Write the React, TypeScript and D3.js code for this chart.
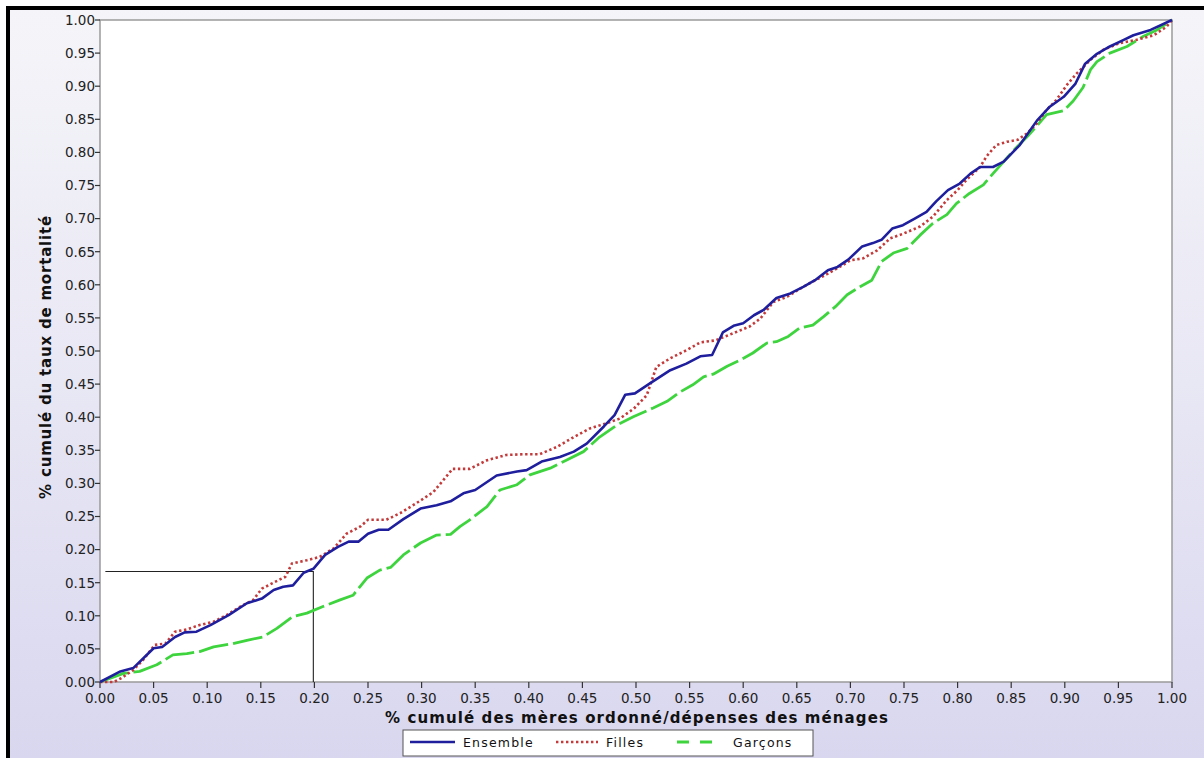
import React from "react";
import * as d3 from "d3";

type Pt = [number, number];

const ensemble: Pt[] = [
  [0, 0], [0.019, 0.016], [0.031, 0.021], [0.05, 0.051], [0.058, 0.053], [0.07, 0.068], [0.079, 0.075], [0.09, 0.076],
  [0.103, 0.086], [0.12, 0.101], [0.137, 0.119], [0.151, 0.126], [0.162, 0.139], [0.171, 0.144], [0.18, 0.146],
  [0.19, 0.165], [0.199, 0.171], [0.21, 0.192], [0.222, 0.204], [0.232, 0.212], [0.241, 0.212], [0.25, 0.224],
  [0.26, 0.23], [0.269, 0.23], [0.283, 0.246], [0.299, 0.262], [0.314, 0.267], [0.327, 0.273], [0.339, 0.285],
  [0.35, 0.29], [0.37, 0.312], [0.389, 0.318], [0.398, 0.32], [0.412, 0.333], [0.429, 0.34], [0.442, 0.348],
  [0.454, 0.36], [0.47, 0.386], [0.48, 0.403], [0.49, 0.434], [0.499, 0.436], [0.513, 0.451], [0.532, 0.471],
  [0.547, 0.481], [0.56, 0.492], [0.571, 0.494], [0.581, 0.528], [0.591, 0.538], [0.6, 0.542], [0.61, 0.554],
  [0.619, 0.562], [0.631, 0.58], [0.644, 0.587], [0.656, 0.597], [0.667, 0.607], [0.679, 0.622], [0.688, 0.627],
  [0.698, 0.638], [0.711, 0.658], [0.721, 0.663], [0.729, 0.668], [0.739, 0.685], [0.749, 0.69], [0.76, 0.7],
  [0.771, 0.71], [0.78, 0.726], [0.791, 0.743], [0.802, 0.753], [0.812, 0.768], [0.821, 0.778], [0.833, 0.778],
  [0.843, 0.786], [0.858, 0.811], [0.874, 0.848], [0.886, 0.869], [0.899, 0.884], [0.91, 0.904], [0.919, 0.934],
  [0.93, 0.949], [0.942, 0.96], [0.955, 0.97], [0.964, 0.977], [0.98, 0.985], [1, 1],
];

const filles: Pt[] = [
  [0, 0], [0.013, 0.0], [0.02, 0.006], [0.031, 0.018], [0.04, 0.033], [0.051, 0.056], [0.061, 0.058], [0.07, 0.076],
  [0.081, 0.0795], [0.093, 0.086], [0.106, 0.091], [0.118, 0.101], [0.131, 0.114], [0.143, 0.124], [0.151, 0.141],
  [0.163, 0.151], [0.173, 0.159], [0.179, 0.179], [0.193, 0.184], [0.205, 0.189], [0.218, 0.202], [0.23, 0.224],
  [0.243, 0.235], [0.25, 0.245], [0.267, 0.245], [0.28, 0.255], [0.295, 0.27], [0.311, 0.287], [0.329, 0.322],
  [0.345, 0.322], [0.361, 0.335], [0.379, 0.343], [0.395, 0.344], [0.41, 0.344], [0.426, 0.355], [0.442, 0.37],
  [0.457, 0.383], [0.473, 0.391], [0.485, 0.398], [0.498, 0.413], [0.51, 0.433], [0.519, 0.476], [0.532, 0.489],
  [0.547, 0.501], [0.56, 0.513], [0.574, 0.516], [0.591, 0.527], [0.606, 0.537], [0.616, 0.549], [0.628, 0.574],
  [0.641, 0.582], [0.653, 0.594], [0.665, 0.605], [0.678, 0.616], [0.69, 0.627], [0.7, 0.637], [0.712, 0.64],
  [0.725, 0.652], [0.737, 0.67], [0.749, 0.677], [0.765, 0.688], [0.777, 0.703], [0.79, 0.728], [0.8, 0.743],
  [0.808, 0.758], [0.821, 0.778], [0.827, 0.794], [0.836, 0.811], [0.846, 0.816], [0.856, 0.819], [0.865, 0.829],
  [0.874, 0.844], [0.883, 0.864], [0.892, 0.879], [0.902, 0.902], [0.911, 0.919], [0.924, 0.94], [0.936, 0.955],
  [0.951, 0.965], [0.967, 0.97], [0.983, 0.977], [0.995, 0.99], [1, 1],
];

const garcons: Pt[] = [
  [0, 0], [0.022, 0.013], [0.037, 0.016], [0.053, 0.026], [0.068, 0.041], [0.081, 0.043], [0.093, 0.046],
  [0.106, 0.053], [0.124, 0.058], [0.137, 0.063], [0.152, 0.068], [0.165, 0.081], [0.18, 0.099], [0.193, 0.104],
  [0.208, 0.114], [0.224, 0.124], [0.236, 0.131], [0.249, 0.157], [0.261, 0.169], [0.271, 0.173], [0.283, 0.192],
  [0.299, 0.21], [0.314, 0.222], [0.327, 0.223], [0.336, 0.235], [0.345, 0.245], [0.361, 0.265], [0.373, 0.29],
  [0.389, 0.298], [0.401, 0.313], [0.42, 0.323], [0.435, 0.335], [0.451, 0.348], [0.466, 0.37], [0.482, 0.388],
  [0.498, 0.401], [0.516, 0.414], [0.529, 0.424], [0.541, 0.438], [0.553, 0.449], [0.563, 0.461], [0.572, 0.465],
  [0.585, 0.477], [0.597, 0.486], [0.609, 0.497], [0.622, 0.512], [0.631, 0.514], [0.642, 0.522], [0.653, 0.535],
  [0.665, 0.539], [0.675, 0.552], [0.686, 0.567], [0.697, 0.585], [0.709, 0.597], [0.72, 0.607], [0.729, 0.635],
  [0.74, 0.648], [0.753, 0.655], [0.765, 0.675], [0.777, 0.693], [0.79, 0.706], [0.799, 0.723], [0.811, 0.738],
  [0.824, 0.751], [0.833, 0.768], [0.843, 0.786], [0.854, 0.806], [0.865, 0.824], [0.875, 0.842], [0.883, 0.857],
  [0.899, 0.863], [0.908, 0.878], [0.917, 0.898], [0.924, 0.925], [0.93, 0.937], [0.942, 0.95], [0.958, 0.96],
  [0.973, 0.975], [0.986, 0.985], [1, 1],
];

// guide lines (reading at 20%)
const guide: Pt[] = [[0.005, 0.167], [0.199, 0.167], [0.199, 0]];

const tickValues: number[] = d3.range(0, 21).map((i) => i * 0.05);

const seriesNames = ["Ensemble", "Filles", "Garçons"];
const xTitle = "% cumulé des mères ordonné/dépenses des ménages";
const yTitle = "% cumulé du taux de mortalité";

const W = 1204;
const H = 758;
const plot = { left: 100, right: 1172, top: 20, bottom: 682 };
const FONT = "'DejaVu Sans', Verdana, sans-serif";

export default function App() {
  const x = d3.scaleLinear().domain([0, 1]).range([plot.left, plot.right]);
  const y = d3.scaleLinear().domain([0, 1]).range([plot.bottom, plot.top]);
  const line = d3
    .line<Pt>()
    .x((d) => x(d[0]))
    .y((d) => y(d[1]));
  const fmt = d3.format(".2f");

  const styles = [
    { stroke: "#1f1f9e", dash: undefined as string | undefined, width: 2.6, lg: undefined as string | undefined },
    { stroke: "#c43a3a", dash: "2.4,2.6", width: 2.6, lg: "2.4,2.6" },
    { stroke: "#3ed43e", dash: "30,5", width: 2.8, lg: "12,11" },
  ];
  const data = [ensemble, filles, garcons];

  // legend layout
  const lg = { x: 403, y: 730, w: 410, h: 26 };
  const items = [
    { x0: 410, x1: 455, tx: 463 },
    { x0: 556, x1: 598, tx: 606 },
    { x0: 677, x1: 715, tx: 733 },
  ];

  return (
    <svg
      width={W}
      height={H}
      style={{ position: "absolute", left: 0, top: 0, display: "block" }}
      xmlns="http://www.w3.org/2000/svg"
    >
      <defs>
        <linearGradient id="bg" x1="0" y1="0" x2="0" y2="1">
          <stop offset="0" stopColor="#f5f5f9" />
          <stop offset="0.5" stopColor="#e8e7f4" />
          <stop offset="1" stopColor="#d9d7ef" />
        </linearGradient>
        <clipPath id="pc">
          <rect x={plot.left} y={plot.top - 2} width={plot.right - plot.left + 2} height={plot.bottom - plot.top + 4} />
        </clipPath>
      </defs>
      <rect x={0} y={0} width={W} height={H} fill="#ffffff" />
      <rect x={6} y={6} width={W - 6} height={H - 6} fill="url(#bg)" />
      {/* black frame top/left */}
      <rect x={6} y={6} width={W - 6} height={4} fill="#000" />
      <rect x={6} y={6} width={4} height={H - 6} fill="#000" />

      {/* plot area */}
      <rect
        x={plot.left}
        y={plot.top}
        width={plot.right - plot.left}
        height={plot.bottom - plot.top}
        fill="#ffffff"
        stroke="#9a9a9a"
        strokeWidth={1.5}
      />

      {/* y ticks */}
      {tickValues.map((v) => (
        <g key={"y" + v}>
          <line x1={plot.left - 5} x2={plot.left} y1={y(v)} y2={y(v)} stroke="#333" strokeWidth={1.2} />
          <text
            x={plot.left - 5}
            y={y(v) + 4.8}
            textAnchor="end"
            fontFamily={FONT}
            fontSize={13.5}
            fill="#222"
          >
            {fmt(v)}
          </text>
        </g>
      ))}
      {/* x ticks */}
      {tickValues.map((v) => (
        <g key={"x" + v}>
          <line x1={x(v)} x2={x(v)} y1={plot.bottom} y2={plot.bottom + 6} stroke="#333" strokeWidth={1.2} />
          <text x={x(v)} y={plot.bottom + 21} textAnchor="middle" fontFamily={FONT} fontSize={13.5} fill="#222">
            {fmt(v)}
          </text>
        </g>
      ))}

      {/* axis titles */}
      <text
        x={637}
        y={723}
        textAnchor="middle"
        fontFamily={FONT}
        fontSize={15}
        fontWeight="bold"
        letterSpacing={1.1}
        fill="#111"
      >
        {xTitle}
      </text>
      <text
        transform={`translate(51,${357}) rotate(-90)`}
        textAnchor="middle"
        fontFamily={FONT}
        fontSize={15}
        fontWeight="bold"
        letterSpacing={0.8}
        fill="#111"
      >
        {yTitle}
      </text>

      {/* guide */}
      <path d={line(guide) || ""} fill="none" stroke="#222" strokeWidth={1.1} />

      {/* series */}
      <g clipPath="url(#pc)">
        {[2, 1, 0].map((i) => (
          <path
            key={i}
            d={line(data[i]) || ""}
            fill="none"
            stroke={styles[i].stroke}
            strokeWidth={styles[i].width}
            strokeDasharray={styles[i].dash}
            strokeLinejoin="round"
          />
        ))}
      </g>

      {/* legend */}
      <rect x={lg.x} y={lg.y} width={lg.w} height={lg.h} fill="#ffffff" stroke="#555" strokeWidth={1} />
      {items.map((it, i) => (
        <g key={"lg" + i}>
          <line
            x1={it.x0}
            x2={it.x1}
            y1={lg.y + 12}
            y2={lg.y + 12}
            stroke={styles[i].stroke}
            strokeWidth={styles[i].width}
            strokeDasharray={styles[i].lg}
          />
          <text x={it.tx} y={lg.y + 17} fontFamily={FONT} fontSize={12.5} letterSpacing={1.2} fill="#111">
            {seriesNames[i]}
          </text>
        </g>
      ))}
    </svg>
  );
}
